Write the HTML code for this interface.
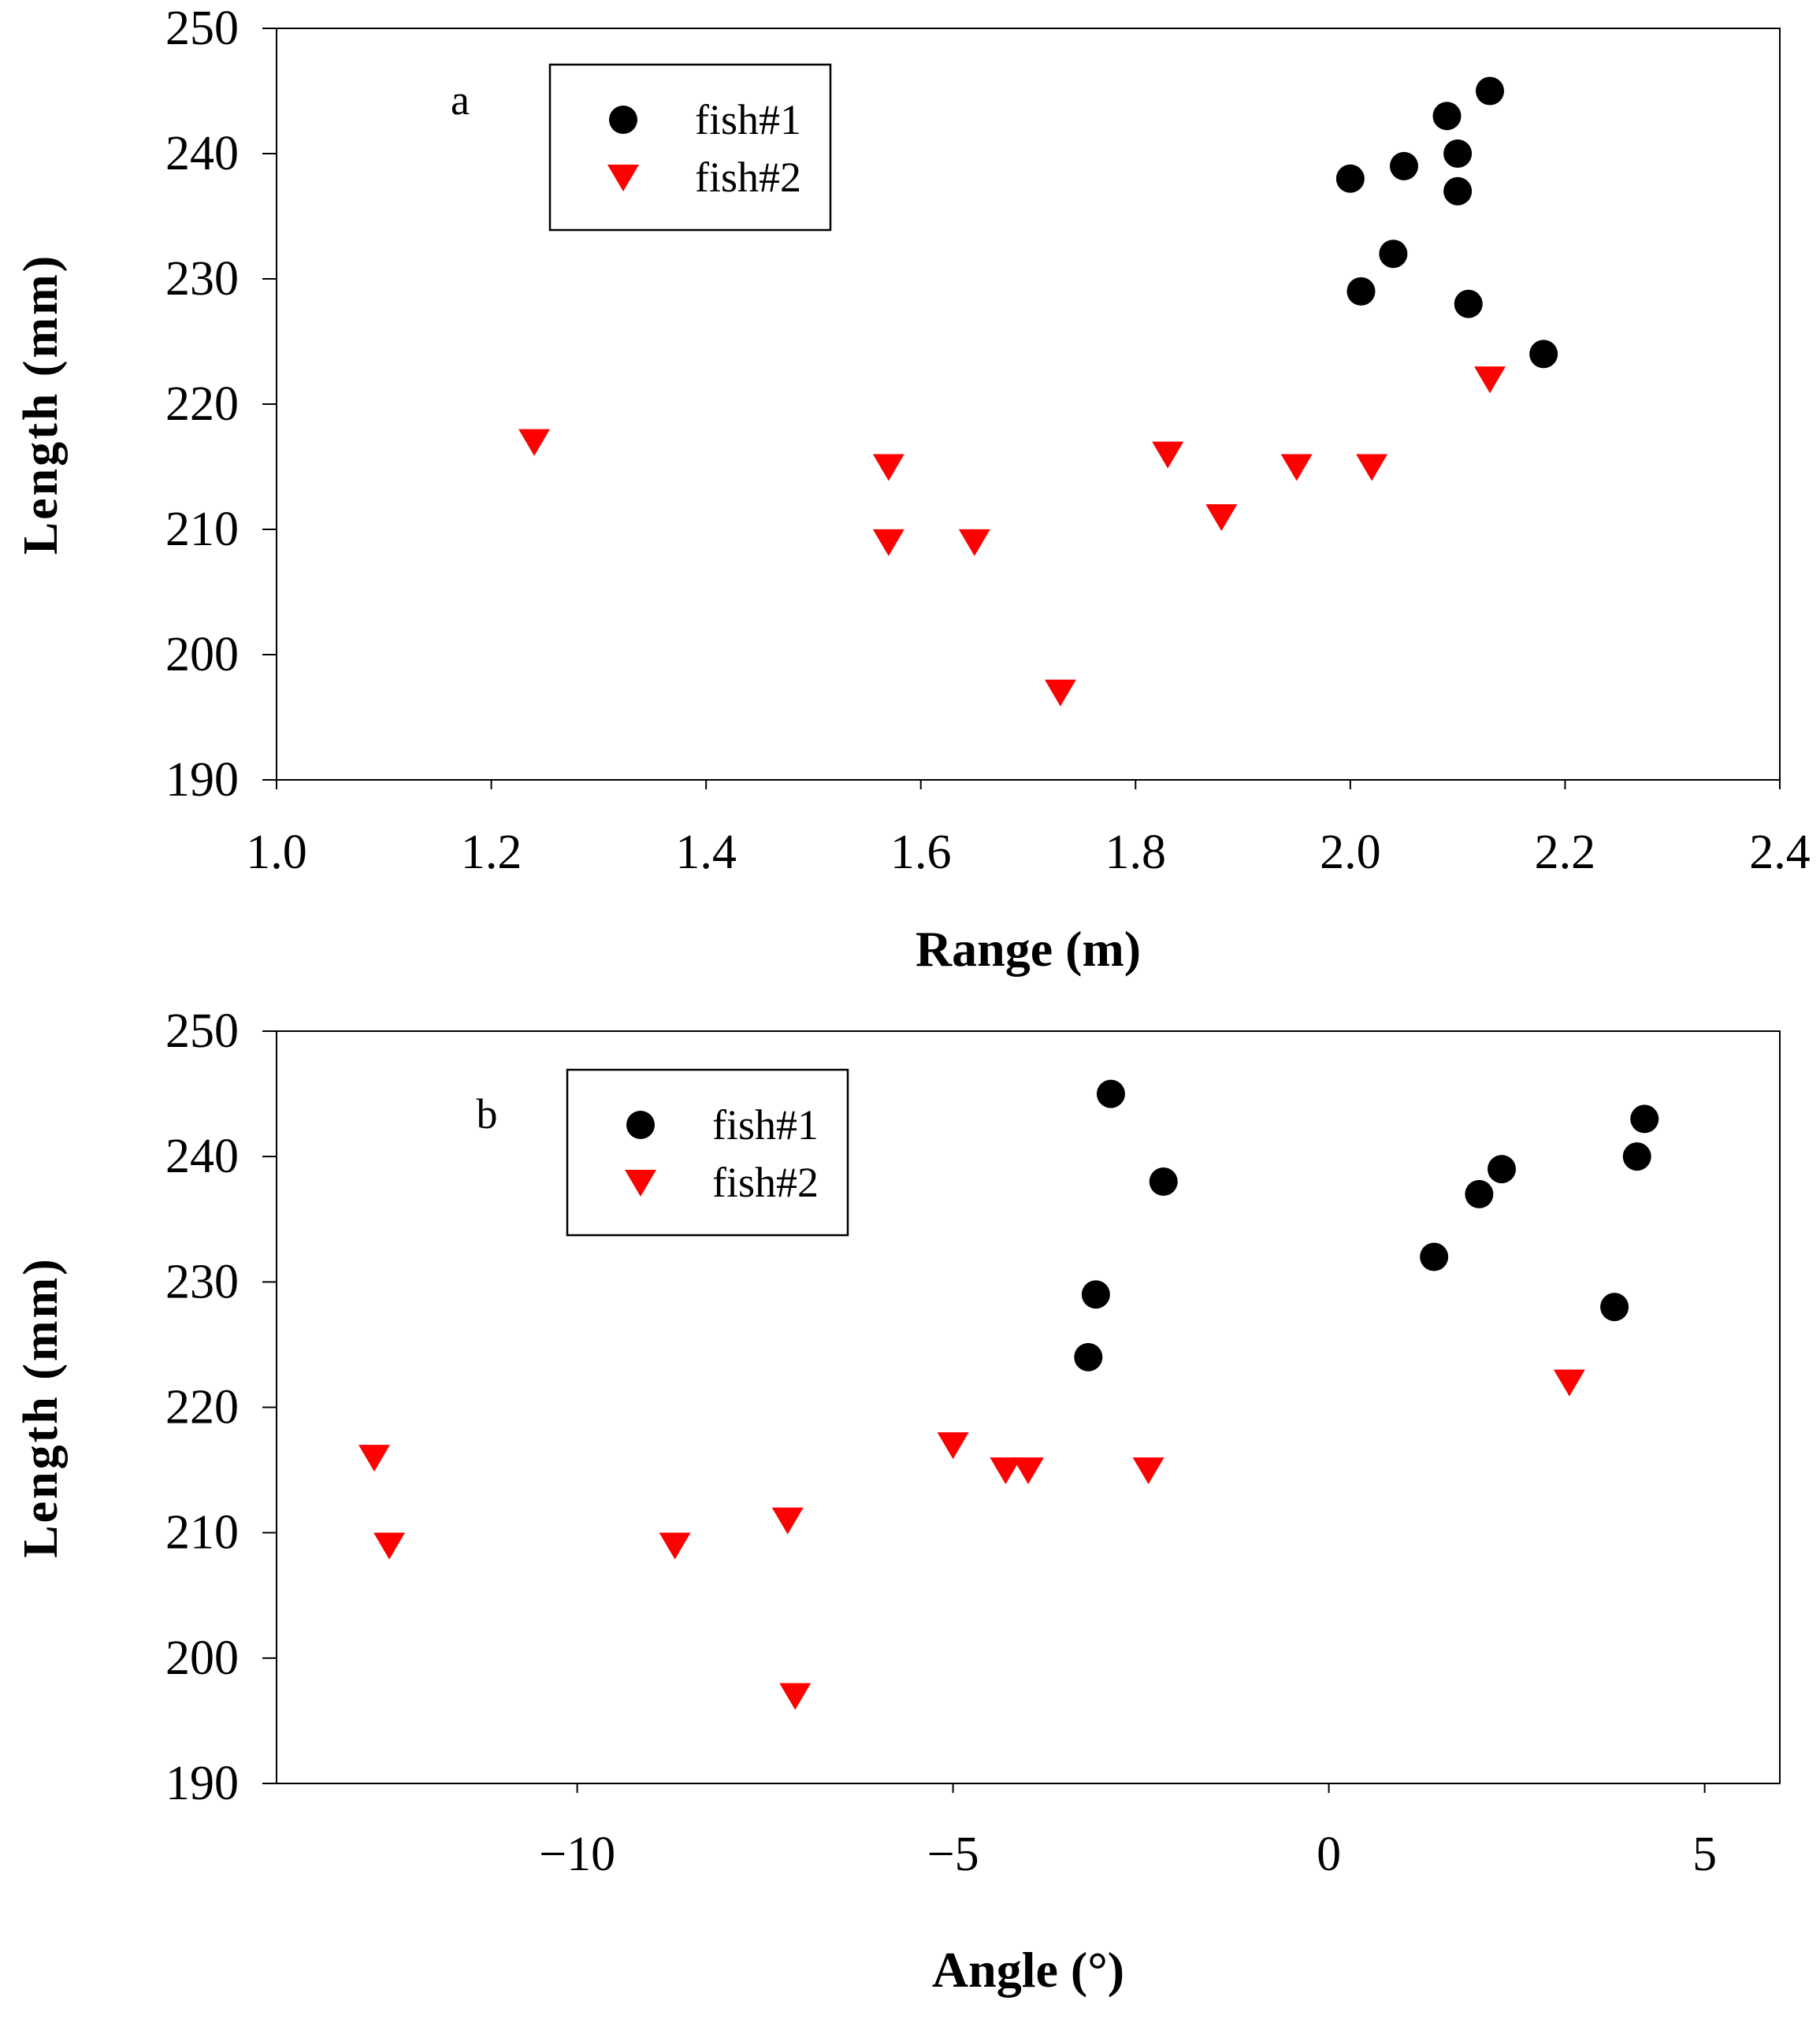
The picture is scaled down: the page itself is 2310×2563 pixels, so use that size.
<!DOCTYPE html>
<html><head><meta charset="utf-8"><style>html,body{margin:0;padding:0;background:#fff}svg{display:block}</style></head>
<body>
<svg id="fig" width="2310" height="2563" viewBox="0 0 2310 2563" xmlns="http://www.w3.org/2000/svg" font-family="'Liberation Serif', serif"></svg>
<script>
const aFish1X=[2.00,2.05,2.09,2.13,2.10,2.10,2.04,2.01,2.11,2.18];
const aFish1Y=[238,239,243,245,240,237,232,229,228,224];
const aFish2X=[1.24,1.57,1.57,1.65,1.73,1.83,1.88,1.95,2.02,2.13];
const aFish2Y=[217,215,209,209,197,216,211,215,215,222];
const bFish1X=[-2.9,-2.2,-3.1,-3.2,1.4,2.0,2.3,3.8,4.1,4.2];
const bFish1Y=[245,238,229,224,232,237,239,228,240,243];
const bFish2X=[-12.7,-12.5,-8.7,-7.2,-7.1,-5.0,-4.3,-4.0,-2.4,3.2];
const bFish2Y=[216,209,209,211,197,217,215,215,215,222];
const yTicks=[190,200,210,220,230,240,250];
const aXTicks=[1.0,1.2,1.4,1.6,1.8,2.0,2.2,2.4];
const bXTicks=[-10,-5,0,5];

const NS='http://www.w3.org/2000/svg';
const svg=document.getElementById('fig');
function mk(tag,attrs,parent,text){const e=document.createElementNS(NS,tag);for(const k in attrs)e.setAttribute(k,attrs[k]);if(text!==undefined)e.textContent=text;(parent||svg).appendChild(e);return e;}

function panel(p){
  const g=mk('g',{});
  
  
  const L=351,R=2259,T=p.top,B=p.bottom;
  const sx=v=>L+(v-p.xmin)/(p.xmax-p.xmin)*(R-L);
  const sy=v=>B-(v-190)/60*(B-T);
  const fr=mk('rect',{x:L,y:T,width:R-L,height:B-T,fill:'none',stroke:'#000','stroke-width':2},g);
  
  
  yTicks.forEach(v=>{
    mk('line',{x1:L-18,x2:L,y1:sy(v),y2:sy(v),stroke:'#000','stroke-width':2},g);
    const t=mk('text',{x:L-48,y:sy(v)+20,'font-size':62,'text-anchor':'end'},g,String(v));
    
    
  });
  p.xTicks.forEach(v=>{
    mk('line',{x1:sx(v),x2:sx(v),y1:B,y2:B+12,stroke:'#000','stroke-width':2},g);
    const t=mk('text',{x:sx(v),y:p.xLabelY,'font-size':62,'text-anchor':'middle'},g,p.fmt(v));
    
    
  });
  const yt=mk('text',{x:0,y:0,'font-size':62,'font-weight':'bold','text-anchor':'middle','letter-spacing':3,transform:`translate(72,${(T+B)/2}) rotate(-90)`},g,'Length (mm)');
  
  
  const xt=mk('text',{x:1305,y:p.xTitleY,'font-size':64,'font-weight':'bold','text-anchor':'middle'},g,p.xTitle);
  
  
  p.f2x.forEach((x,i)=>{
    const cx=sx(x),cy=sy(p.f2y[i]);
    const m=mk('polygon',{points:`${cx-20},${cy-16} ${cx+20},${cy-16} ${cx},${cy+18}`,fill:'#ff0000'},g);
    
    
  });
  p.f1x.forEach((x,i)=>{
    const m=mk('circle',{cx:sx(x),cy:sy(p.f1y[i]),r:18,fill:'#000'},g);
    
    
  });
  const lg=mk('g',{},g);
  
  
  const lb=p.leg;
  mk('rect',{x:lb.x,y:lb.y,width:356,height:210,fill:'#fff',stroke:'#000','stroke-width':2.5},lg);
  const c=mk('circle',{cx:lb.x+93,cy:lb.y+70,r:18,fill:'#000'},lg);
  
  
  const tx=lb.x+93,ty=lb.y+143;
  const tr=mk('polygon',{points:`${tx-20},${ty-16} ${tx+20},${ty-16} ${tx},${ty+18}`,fill:'#ff0000'},lg);
  
  
  const l1=mk('text',{x:lb.x+184,y:lb.y+88,'font-size':54},lg,'fish#1');
  
  
  const l2=mk('text',{x:lb.x+184,y:lb.y+161,'font-size':54},lg,'fish#2');
  
  
  const pl=mk('text',{x:p.lab.x,y:p.lab.y,'font-size':54,'text-anchor':'middle'},g,p.lab.t);
  
  
}
panel({name:'panel-a',top:36,bottom:990,xmin:1.0,xmax:2.4,xTicks:aXTicks,fmt:v=>v.toFixed(1),xLabelY:1102,xTitle:'Range (m)',xTitleY:1226,
  f1x:aFish1X,f1y:aFish1Y,f2x:aFish2X,f2y:aFish2Y,leg:{x:698,y:82},lab:{x:584,y:145,t:'a'}});
panel({name:'panel-b',top:1309,bottom:2264,xmin:-14,xmax:6,xTicks:bXTicks,fmt:v=>v<0?'\u2212'+Math.abs(v):String(v),xLabelY:2374,xTitle:'Angle (\u00b0)',xTitleY:2522,
  f1x:bFish1X,f1y:bFish1Y,f2x:bFish2X,f2y:bFish2Y,leg:{x:720,y:1358},lab:{x:618,y:1432,t:'b'}});
</script>
</body></html>
